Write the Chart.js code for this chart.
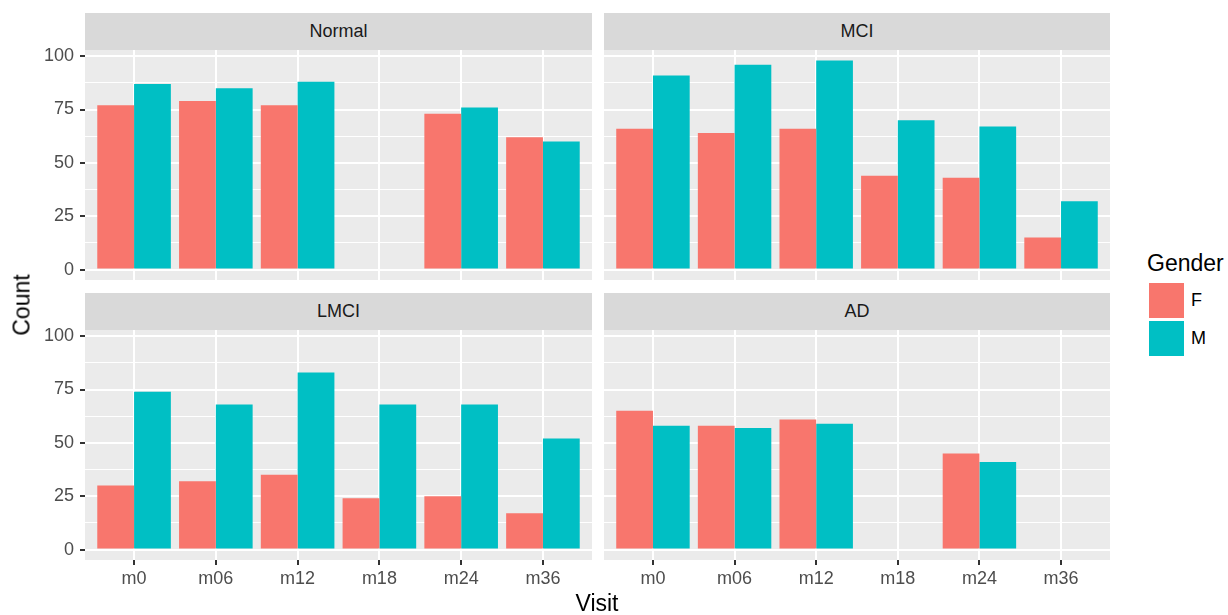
<!DOCTYPE html>
<html>
<head>
<meta charset="utf-8">
<script src="https://cdn.jsdelivr.net/npm/chart.js@4/dist/chart.umd.min.js"></script>
<style>
  body { margin: 0; background: #fff; font-family: "Liberation Sans", Arial, sans-serif; }
  #wrap { position: relative; width: 1228px; height: 615px; }
  canvas { position: absolute; }
  .strip { position: absolute; background: #D9D9D9; color: #1A1A1A; font-size: 18px;
           display: flex; align-items: center; justify-content: center; }
  .title { position: absolute; color: #000; font-size: 23px; }
  .key { position: absolute; width: 35px; height: 35px; }
  .klab { position: absolute; font-size: 18px; color: #000; }
</style>
</head>
<body>
<div id="wrap">
  <div class="strip" style="left:85px;top:13px;width:507px;height:37px">Normal</div>
  <div class="strip" style="left:604px;top:13px;width:506px;height:37px">MCI</div>
  <div class="strip" style="left:85px;top:293px;width:507px;height:37px">LMCI</div>
  <div class="strip" style="left:604px;top:293px;width:506px;height:37px">AD</div>

  <!-- canvases start 12px above the panel so the "100" label is not clipped -->
  <canvas id="pNormal" width="592" height="242" style="left:0;top:38px"></canvas>
  <canvas id="pMCI" width="506" height="242" style="left:604px;top:38px"></canvas>
  <canvas id="pLMCI" width="592" height="284" style="left:0;top:318px"></canvas>
  <canvas id="pAD" width="506" height="284" style="left:604px;top:318px"></canvas>

  <div class="title" style="left:597px;top:590px;transform:translateX(-50%)">Visit</div>
  <div class="title" style="left:22px;top:305px;transform:translate(-50%,-50%) rotate(-90deg)">Count</div>

  <div class="title" style="left:1147px;top:250px">Gender</div>
  <div class="key" style="left:1148px;top:282px;background:#F8766D;border:1px solid #fff"></div>
  <div class="key" style="left:1148px;top:320px;background:#00BFC4;border:1px solid #fff"></div>
  <div class="klab" style="left:1191px;top:290px">F</div>
  <div class="klab" style="left:1191px;top:328px">M</div>
</div>
<script>
const visits = ['m0', 'm06', 'm12', 'm18', 'm24', 'm36'];

const normalF = [77, 79, 77, null, 73, 62];
const normalM = [87, 85, 88, null, 76, 60];
const mciF = [66, 64, 66, 44, 43, 15];
const mciM = [91, 96, 98, 70, 67, 32];
const lmciF = [30, 32, 35, 24, 25, 17];
const lmciM = [74, 68, 83, 68, 68, 52];
const adF = [65, 58, 61, null, 45, null];
const adM = [58, 57, 59, null, 41, null];

const yTicks = [0, 25, 50, 75, 100];

const panelBg = {
  id: 'panelBg',
  beforeDraw(chart) {
    const { ctx, chartArea: a } = chart;
    ctx.save();
    ctx.fillStyle = '#EBEBEB';
    ctx.fillRect(a.left, a.top, a.right - a.left, a.bottom - a.top);
    ctx.restore();
  }
};

// visits sit at x = 1..6 on a linear axis, padded by 0.6 like ggplot's discrete scale
const toPts = arr => arr.map((v, i) => ({ x: i + 1, y: v }));

function panel(id, f, m, showY, showX) {
  new Chart(document.getElementById(id), {
    type: 'bar',
    data: {
      datasets: [
        { label: 'F', data: toPts(f), backgroundColor: '#F8766D' },
        { label: 'M', data: toPts(m), backgroundColor: '#00BFC4' }
      ]
    },
    options: {
      responsive: false,
      animation: false,
      devicePixelRatio: 1,
      layout: { padding: { top: 12 } },
      categoryPercentage: 0.9,
      barPercentage: 1.0,
      plugins: { legend: { display: false }, tooltip: { enabled: false } },
      scales: {
        x: {
          type: 'linear',
          min: 0.4, max: 6.6,
          offset: false,
          border: { display: false },
          grid: { offset: false, color: '#FFFFFF', lineWidth: 2, drawTicks: showX,
                  tickLength: 5, tickColor: '#333333', tickWidth: 2 },
          ticks: { display: showX, stepSize: 1, includeBounds: false, color: '#4D4D4D', padding: 3,
                   font: { family: 'Liberation Sans', size: 18 },
                   callback: v => visits[v - 1] || '' },
          afterFit(s) { s.height = showX ? 42 : 0; s.paddingLeft = 0; s.paddingRight = 0; }
        },
        y: {
          min: -4.9, max: 102.9,
          border: { display: false },
          grid: {
            color: '#FFFFFF',
            lineWidth: c => yTicks.includes(c.tick.value) ? 2 : 1,
            drawTicks: showY, tickLength: 5, tickWidth: 2,
            tickColor: c => yTicks.includes(c.tick.value) ? '#333333' : 'rgba(0,0,0,0)'
          },
          ticks: {
            display: showY, stepSize: 12.5, includeBounds: false, color: '#4D4D4D', padding: 6,
            font: { family: 'Liberation Sans', size: 18 },
            callback: v => yTicks.includes(v) ? String(v) : ''
          },
          afterFit(s) { s.width = showY ? 85 : 0; s.paddingTop = 0; s.paddingBottom = 0; }
        }
      }
    },
    plugins: [panelBg]
  });
}

panel('pNormal', normalF, normalM, true, false);
panel('pMCI', mciF, mciM, false, false);
panel('pLMCI', lmciF, lmciM, true, true);
panel('pAD', adF, adM, false, true);
</script>
</body>
</html>
